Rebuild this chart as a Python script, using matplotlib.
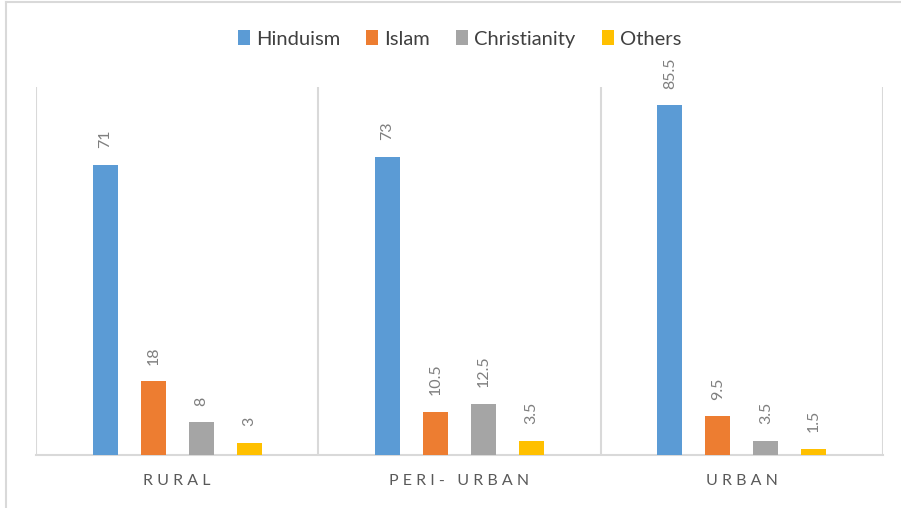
import numpy as np
import matplotlib.pyplot as plt
from matplotlib.patches import Patch
from matplotlib.lines import Line2D

plt.rcParams['font.family'] = ['Lato', 'DejaVu Sans']

areas = ['RURAL', 'PERI- URBAN', 'URBAN']
religions = ['Hinduism', 'Islam', 'Christianity', 'Others']
hinduism = [71, 73, 85.5]
islam = [18, 10.5, 9.5]
christianity = [8, 12.5, 3.5]
others = [3, 3.5, 1.5]
colors = ['#5b9bd5', '#ed7d31', '#a5a5a5', '#ffc000']

series = [hinduism, islam, christianity, others]

fig = plt.figure(figsize=(9.01, 5.08), dpi=100)
ax = fig.add_axes([0.040, 0.1043, 0.940, 0.7244])

x = np.arange(len(areas)) + 0.5
step = 0.170
width = 0.089
for i, (vals, c) in enumerate(zip(series, colors)):
    pos = x + (i - 1.5) * step
    ax.bar(pos, vals, width=width, color=c, zorder=3)
    for p, v in zip(pos, vals):
        ax.annotate(f'{v:g}', (p, v), xytext=(0, 12), textcoords='offset points',
                    rotation=90, ha='center', va='bottom', fontsize=11.5,
                    color='#7f7f7f')

ax.set_xlim(0, 3)
ax.set_ylim(0, 90)
for s in ['top', 'right', 'left']:
    ax.spines[s].set_visible(False)
ax.spines['bottom'].set_color('#d9d9d9')
ax.spines['bottom'].set_linewidth(1.5)
for xv in range(4):
    ax.axvline(xv, color='#d9d9d9', lw=1.5, zorder=1)
ax.set_yticks([])
ax.set_xticks(x)
ax.set_xticklabels([' '.join(a) for a in areas], fontsize=11.5, color='#595959')
ax.tick_params(axis='x', length=0, pad=14)

handles = [Patch(facecolor=c, label=r) for c, r in zip(colors, religions)]
fig.legend(handles=handles, loc='center', bbox_to_anchor=(0.51, 0.923), ncol=4,
           frameon=False, fontsize=14.5, handlelength=0.6, handleheight=0.75,
           handletextpad=0.3, columnspacing=1.3, labelcolor='#404040')

# outer frame, left and top edges
fig.add_artist(Line2D([0.007, 0.007], [0.0, 0.996], transform=fig.transFigure,
                      color='#d9d9d9', lw=1.5))
fig.add_artist(Line2D([0.007, 1.0], [0.996, 0.996], transform=fig.transFigure,
                      color='#d9d9d9', lw=1.5))

fig.savefig('out.png', dpi=100)
